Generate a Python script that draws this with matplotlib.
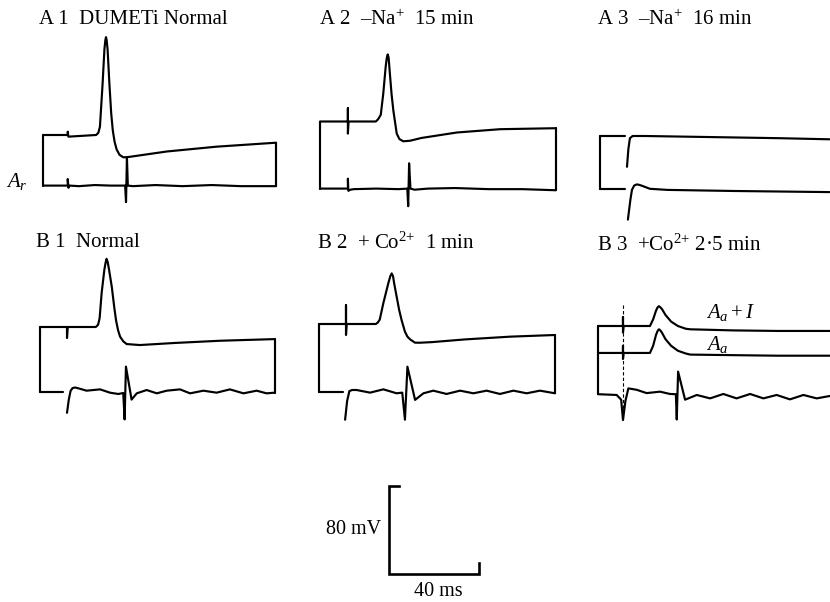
import matplotlib.pyplot as plt
import numpy as np

plt.rcParams['font.family'] = 'Liberation Serif'
plt.rcParams['mathtext.fontset'] = 'custom'
plt.rcParams['mathtext.rm'] = 'Liberation Serif'
plt.rcParams['mathtext.it'] = 'Liberation Serif:italic'

W, H = 830, 602
PX_MS = 2.25   # pixels per ms  (40 ms bar)
PX_MV = 1.1    # pixels per mV  (80 mV bar)
LW = 1.55

# ---- traces: time (ms) and potential (mV) from the start of each sweep ----
# A1 DUMETi normal
a1_top_t = [0, 11, 11, 11.3, 23.6, 24.6, 25.3, 26.5, 27.3, 27.7, 28, 28.3, 28.7, 29.5, 30.3, 31,
            31.8, 32.7, 34, 35.7, 38, 55, 77.2, 103.6]
a1_top_v = [0, 0, 3, -1.5, 0, 2, 7.5, 47, 78, 86, 89, 86, 78, 47, 20, 4.5,
            -6, -13, -18, -20.3, -20, -15, -10.6, -7]
a1_bot_t = [0, 11, 11, 11.3, 11.7, 16, 23, 30, 36.5, 36.9, 37.3, 37.7, 40, 50, 62, 75, 88, 103.6]
a1_bot_v = [-46, -46, -40, -48, -46, -46.5, -45.5, -46, -46, -61, -20, -46, -46.5, -45.5, -46.5, -45.5, -46.5, -46.5]

# A2 -Na 15 min
a2_top_t = [0, 12.4, 12.4, 12.4, 12.7, 24.8, 25.8, 27, 28.1, 29.2, 29.7, 30.1, 30.5, 31, 31.8, 32.6,
            34.1, 35.3, 37, 40, 45, 60.8, 80, 104.8]
a2_top_v = [0, 0, 12, -11, 0, 0, 2, 6, 25, 50, 58, 61, 58, 45, 25, 10,
            -11, -16, -18, -17.5, -15, -10, -7, -6.1]
a2_bot_t = [0, 12.4, 12.4, 12.6, 13.5, 15, 25, 35, 38.8, 39.2, 39.6, 40.2, 42, 48, 60, 75, 90, 104.8]
a2_bot_v = [-61, -61, -52, -63, -62, -61.5, -61, -61.5, -61, -77, -38, -61, -62, -61, -60.5, -61.5, -61.5, -62.5]

# A3 -Na 16 min
a3_top1_t = [0, 11.1]
a3_top1_v = [0, 0]
a3_top2_t = [12.0, 12.6, 13.3, 14.5, 20, 50, 80, 102]
a3_top2_v = [-28, -12, -2, 0, 0, -1, -2, -3]
a3_bot1_t = [0, 11.1]
a3_bot1_v = [-48, -48]
a3_bot2_t = [12.4, 13.5, 14.2, 15.2, 16.4, 17.6, 19, 22.2, 30, 60, 102]
a3_bot2_v = [-76, -58, -49, -45, -44, -44.5, -45.5, -48, -49, -50, -51]

# B1 normal
b1_top_t = [0, 12, 12, 12.3, 24.8, 25.8, 26.5, 27.4, 28.6, 29.2, 29.6, 30.1, 30.7, 31.9, 33, 33.8,
            34.7, 35.6, 37, 38.5, 44.4, 60, 80, 104.4]
b1_top_v = [0, 0, -10, 0, 0, 2, 8, 31, 52, 59, 62, 59, 52, 36.6, 18, 6,
            -3, -8.8, -13, -15.5, -16.4, -14.5, -12.5, -11]
b1_bot1_t = [0, 10.2]
b1_bot1_v = [-59, -59]
b1_bot2_t = [12, 12.8, 13.6, 14.5, 15.6, 17.5, 20.7, 26.7, 31.1, 34.8, 37.0, 37.6, 38.2, 40.7, 43.0, 47.4, 51.9,
             56.3, 62.2, 66.7, 72.6, 78.5, 84.4, 90.4, 96.3, 100.7, 104.4]
b1_bot2_v = [-78, -66, -58, -55.5, -55, -56, -57.9, -56.7, -59.7, -60.9, -60, -84, -36, -66, -60.3, -57.3, -60.3,
             -57.9, -56.7, -60.3, -57.9, -59.7, -56.7, -60.3, -57.9, -60.3, -59.7]

# B2 +Co 1 min
b2_top_t = [0, 12, 12, 12, 12.3, 25.3, 26.2, 27, 28.6, 30.8, 31.7, 32.3, 32.9, 33.4, 34.5, 35.6, 36.7, 38.2,
            39.3, 40.5, 42.7, 45, 50, 65, 85, 104.9]
b2_top_v = [0, 0, 17, -10, 0, 0, 1.5, 4, 19, 37, 43.5, 46, 43.5, 37, 25, 13, 3.6, -7,
            -11.5, -14, -17, -17, -16.5, -14, -11.5, -10]
b2_bot1_t = [0, 10.7]
b2_bot1_v = [-62, -62]
b2_bot2_t = [11.6, 12.5, 13.5, 14.7, 16.7, 22.7, 28.6, 34.5, 37.0, 38.2, 39.3, 42.7, 46.4, 50.8, 56.7,
             62.7, 68.6, 74.5, 80.4, 86.4, 92.3, 98.2, 104.9]
b2_bot2_v = [-87, -70, -61, -60, -60, -62.4, -59.4, -63, -62.4, -87, -38.8, -69, -63, -60.6, -63.6,
             -60.6, -63, -60.6, -63.6, -60.6, -63, -60.6, -63]

# B3 +Co 2.5 min: A_a + I, A_a and extracellular record
b3_top_t = [0, 11.1, 11.1, 11.1, 11.4, 23.1, 24.5, 25.8, 26.5, 27.1, 27.7, 28.4, 30, 32.5, 35.5, 39, 41, 60, 80, 103]
b3_top_v = [0, 0, 8, -6, 0, 0, 6, 14, 17, 18, 17, 15.5, 10, 4, 0, -2.5, -3, -4, -4.5, -4.5]
b3_mid_t = [0, 11.1, 11.1, 11.1, 11.4, 23.1, 24.5, 25.8, 26.5, 27.1, 27.7, 28.4, 30, 32.5, 35.5, 39, 41, 60, 80, 103]
b3_mid_v = [-24.5, -24.5, -18, -30, -24.5, -24.5, -18, -8, -4.5, -3, -4, -6, -12, -18, -22.5, -25, -26, -26.5, -27, -27]
b3_bot_t = [0, 8.3, 10.3, 11.1, 12.2, 13.5, 17.2, 21.6, 27.6, 32, 34.6, 35.0, 35.6, 38.7, 43.9,
            49.8, 55.7, 61.6, 67.6, 73.5, 79.4, 85.3, 91.3, 97.2, 103.1]
b3_bot_v = [-62, -62.7, -67, -85.5, -68, -56.7, -58, -61, -59.7, -61.8, -62, -85, -41.5, -67, -62.7,
            -65.8, -61.8, -65.8, -61.8, -65.8, -62.7, -66.7, -62.7, -65.8, -63.6]
b3_artifact_t = 11.1
b3_artifact_v = [19, -85]

# calibration
CAL_MS = 40
CAL_MV = 80

# ---- layout (pixel position of each sweep origin) ----
origins = {
    'A1': (43, 135), 'A2': (320, 121.5), 'A3': (600, 136),
    'B1': (40, 327), 'B2': (319, 324), 'B3': (598, 326),
}

fig = plt.figure(figsize=(8.3, 6.02), dpi=100)


def panel(name):
    x0, y0 = origins[name]
    ax = fig.add_axes([(x0 - 10 * PX_MS) / W, 1 - (y0 + 110 * PX_MV) / H,
                       125 * PX_MS / W, 220 * PX_MV / H])
    ax.set_xlim(-10, 115)
    ax.set_ylim(-110, 110)
    ax.axis('off')
    return ax


def trace(ax, t, v, **kw):
    ax.plot(t, v, color='k', lw=LW, clip_on=False, solid_joinstyle='round',
            solid_capstyle='round', **kw)


def edge(ax, t, v1, v2):
    trace(ax, [t, t], [v1, v2])


ax = panel('A1')
trace(ax, a1_top_t, a1_top_v)
trace(ax, a1_bot_t, a1_bot_v)
edge(ax, a1_top_t[0], a1_top_v[0], a1_bot_v[0])
edge(ax, a1_top_t[-1], a1_top_v[-1], a1_bot_v[-1])

ax = panel('A2')
trace(ax, a2_top_t, a2_top_v)
trace(ax, a2_bot_t, a2_bot_v)
edge(ax, a2_top_t[0], a2_top_v[0], a2_bot_v[0])
edge(ax, a2_top_t[-1], a2_top_v[-1], a2_bot_v[-1])

ax = panel('A3')
trace(ax, a3_top1_t, a3_top1_v)
trace(ax, a3_top2_t, a3_top2_v)
trace(ax, a3_bot1_t, a3_bot1_v)
trace(ax, a3_bot2_t, a3_bot2_v)
edge(ax, a3_top1_t[0], a3_top1_v[0], a3_bot1_v[0])

ax = panel('B1')
trace(ax, b1_top_t, b1_top_v)
trace(ax, b1_bot1_t, b1_bot1_v)
trace(ax, b1_bot2_t, b1_bot2_v)
edge(ax, b1_top_t[0], b1_top_v[0], b1_bot1_v[0])
edge(ax, b1_top_t[-1], b1_top_v[-1], b1_bot2_v[-1])

ax = panel('B2')
trace(ax, b2_top_t, b2_top_v)
trace(ax, b2_bot1_t, b2_bot1_v)
trace(ax, b2_bot2_t, b2_bot2_v)
edge(ax, b2_top_t[0], b2_top_v[0], b2_bot1_v[0])
edge(ax, b2_top_t[-1], b2_top_v[-1], b2_bot2_v[-1])

ax = panel('B3')
trace(ax, b3_top_t, b3_top_v)
trace(ax, b3_mid_t, b3_mid_v)
trace(ax, b3_bot_t, b3_bot_v)
edge(ax, b3_top_t[0], b3_top_v[0], b3_bot_v[0])
ax.plot([b3_artifact_t, b3_artifact_t], b3_artifact_v, color='k', lw=0.8,
        ls=(0, (3, 2)), clip_on=False)
ax.text(48, 12, r'$A_a + I$', fontsize=15, ha='left', va='center')
ax.text(48, -17, r'$A_a$', fontsize=15, ha='left', va='center')

# calibration bars
cal = fig.add_axes([(389 - 10 * PX_MS) / W, 1 - (574 + 20 * PX_MV) / H,
                    60 * PX_MS / W, 120 * PX_MV / H])
cal.set_xlim(-10, 50)
cal.set_ylim(-20, 100)
cal.axis('off')
cal.plot([CAL_MS * 0.11, 0, 0, CAL_MS, CAL_MS], [CAL_MV, CAL_MV, 0, 0, CAL_MV * 0.13],
         color='k', lw=1.9, clip_on=False, solid_joinstyle='miter')
cal.text(-3.5, CAL_MV * 0.5, '80 mV', fontsize=14.5, ha='right', va='center')
cal.text(CAL_MS * 0.55, -16, '40 ms', fontsize=14.5, ha='center', va='center')

# titles
titles = [
    (39, 19, 'A 1  DUMETi Normal'),
    (319, 20, r'A 2  –$\mathregular{Na^{+}}$  15 min'),
    (597, 20, r'A 3  –$\mathregular{Na^{+}}$  16 min'),
    (36, 243, 'B 1  Normal'),
    (317, 243, r'B 2  + $\mathregular{Co^{2{+}}}$  1 min'),
    (597, 245, r'B 3  +$\mathregular{Co^{2{+}}}$ 2·5 min'),
]
for x, y, s in titles:
    fig.text(x / W, 1 - y / H, s, fontsize=15, ha='left', va='center')

fig.text(6 / W, 1 - 182 / H, r'$A_r$', fontsize=15, ha='left', va='center')

plt.savefig('out.png', dpi=100)
